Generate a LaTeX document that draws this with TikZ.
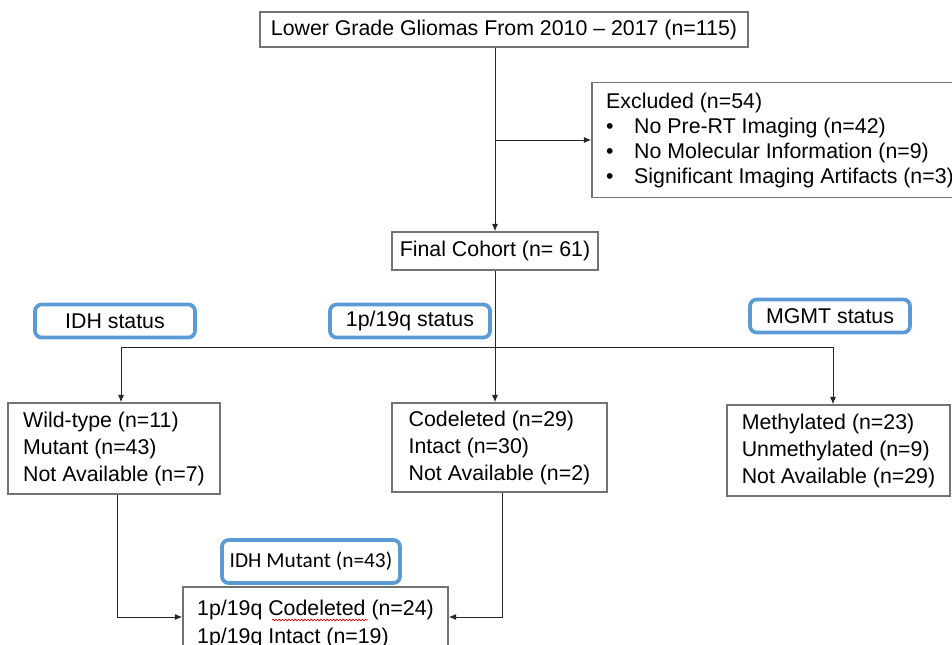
\documentclass[tikz,border=0pt]{standalone}
\usepackage{fontspec}
\setmainfont{Liberation Sans}
\newfontfamily\carlito{Carlito}
\usetikzlibrary{arrows.meta,calc,decorations.pathmorphing}
\definecolor{tagblue}{RGB}{91,155,213}

\begin{document}
\begin{tikzpicture}
  [x=0.75pt,y=-0.75pt,
   every node/.style={font=\fontsize{16}{19.5}\selectfont},
   box/.style={draw=black!55,line width=1.1pt,fill=white,align=left},
   group/.style={box,font=\fontsize{16}{20.25}\selectfont},
   tag/.style={draw=tagblue,line width=2.8pt,rounded corners=5pt,fill=white,
               minimum width=120pt,minimum height=24.75pt},
   link/.style={draw=black!85,line width=0.7pt},
   arr/.style={link,-{Latex[length=5.5pt,width=4.5pt]}}]

  \useasboundingbox (0,0) rectangle (952,645);
  \clip (0,0) rectangle (952,645);
  \fill[white] (0,0) rectangle (952,645);

  \node[box,align=center,minimum width=366pt,minimum height=26.25pt] (top) at (504,29.5)
    {Lower Grade Gliomas From 2010 -- 2017 (n=115)};
  \node[box,minimum width=282pt,minimum height=86.25pt,
        font=\fontsize{16}{18.75}\selectfont] (excl) at (780,140)
    {Excluded (n=54)\\
     \makebox[21pt][l]{•}No Pre-RT Imaging (n=42)\\
     \makebox[21pt][l]{•}No Molecular Information (n=9)\\
     \makebox[21pt][l]{•}Significant Imaging Artifacts (n=3)};
  \node[box,align=center,minimum width=154.5pt,minimum height=28.5pt] (final) at (495,251)
    {Final Cohort (n= 61)};

  \node[tag] (idhtag) at (115,321) {IDH status};
  \node[tag] (codeltag) at (410,321) {1p/19q status};
  \node[tag] (mgmttag) at (830,316) {MGMT status};

  \node[group,minimum width=159pt,minimum height=68.25pt] (wild) at (114,448.5)
    {Wild-type (n=11)\\Mutant (n=43)\\Not Available (n=7)};
  \node[group,minimum width=161.25pt,minimum height=66.75pt] (codel) at (499.5,447.5)
    {Codeleted (n=29)\\Intact (n=30)\\Not Available (n=2)};
  \node[group,minimum width=167.25pt,minimum height=68.25pt] (meth) at (838.5,450.5)
    {Methylated (n=23)\\Unmethylated (n=9)\\Not Available (n=29)};

  \node[tag,minimum width=133.5pt,minimum height=32.25pt,
        font=\carlito\fontsize{16}{19.5}\selectfont] (mutant) at (311,561.5)
    {IDH Mutant (n=43)};
  \node[box,minimum width=198.75pt,minimum height=55.5pt,
        font=\fontsize{16}{21}\selectfont] (result) at (315.5,624)
    {1p/19q Codeleted (n=24)\\1p/19q Intact (n=19)};
  \draw[red!85!black,line width=0.5pt,decorate,
        decoration={snake,amplitude=0.6pt,segment length=2.4pt}] (272,620) -- (368,620);

  % connectors
  \coordinate (fork) at (495,347);
  \coordinate (wildin) at ($(wild.north)+(7,0)$);
  \coordinate (wildout) at ($(wild.south)+(3,0)$);
  \coordinate (methin) at ($(meth.north)+(-5.5,0)$);
  \coordinate (codelout) at ($(codel.south)+(2.5,0)$);
  \coordinate (resin) at ($(result.west)+(0,-7)$);
  \coordinate (resin2) at ($(result.east)+(0,-7)$);

  \draw[arr] (final.north |- top.south) -- (final.north);
  \draw[arr] (final.north |- excl.west) -- (excl.west);
  \draw[arr] (final.south) -- (final.south |- codel.north);
  \draw[link] (wildin |- fork) -- (methin |- fork);
  \draw[arr] (wildin |- fork) -- (wildin);
  \draw[arr] (methin |- fork) -- (methin);
  \draw[arr] (wildout) |- (resin);
  \draw[arr] (codelout) |- (resin2);

\end{tikzpicture}
\end{document}
